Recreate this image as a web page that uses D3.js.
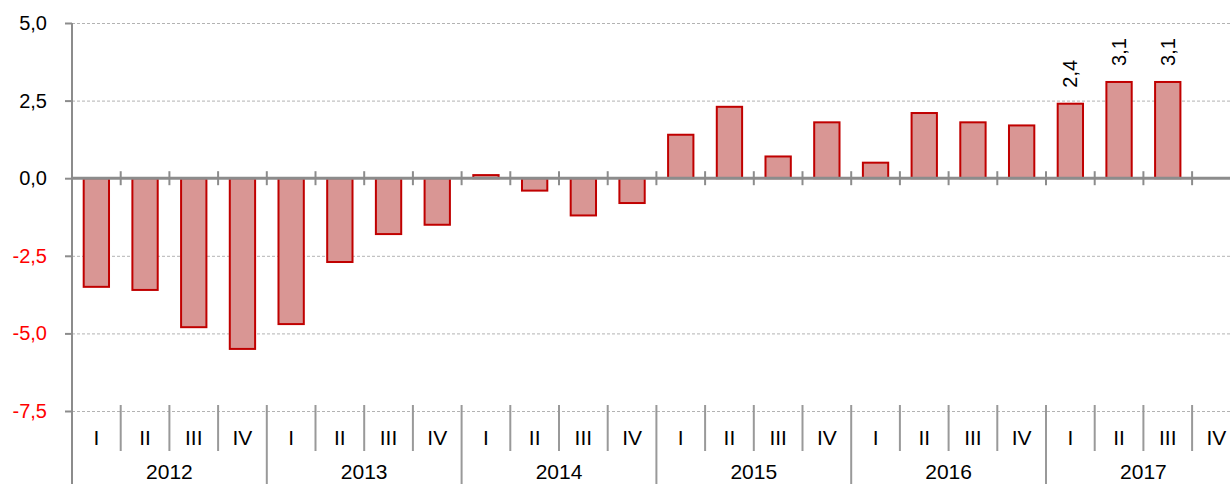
<!DOCTYPE html>
<html>
<head>
<meta charset="utf-8">
<script src="https://cdnjs.cloudflare.com/ajax/libs/d3/7.8.5/d3.min.js"></script>
<style>
  body { margin: 0; background: #fff; }
  svg { display: block; font-family: "Liberation Sans", Arial, sans-serif; }
</style>
</head>
<body>
<script>
(function(){

  //chart data
  var years = ["2012", "2013", "2014", "2015", "2016", "2017"];
  var quarters = ["I", "II", "III", "IV"];
  var values = [-3.5, -3.6, -4.8, -5.5,
                -4.7, -2.7, -1.8, -1.5,
                 0.1, -0.4, -1.2, -0.8,
                 1.4,  2.3,  0.7,  1.8,
                 0.5,  2.1,  1.8,  1.7,
                 2.4,  3.1,  3.1, null];
  var labelIndex = [20, 21, 22]; //bars with value labels
  var yTicks = [-7.5, -5, -2.5, 0, 2.5, 5];

  window.onload = drawChart();

  function drawChart(){
    var width = 1230,
        height = 484;

    var svg = d3.select("body")
      .append("svg")
      .attr("width", width)
      .attr("height", height);

    var left = 72,
        step = 48.7;

    var idx = d3.range(years.length * quarters.length);

    var x = d3.scaleBand() //one band per quarter
      .domain(idx)
      .range([left, left + step * idx.length])
      .paddingInner(0.48)
      .paddingOuter(0.24);

    var y = d3.scaleLinear()
      .domain([-7.5, 5])
      .range([411, 23]);

    var locale = d3.formatLocale({decimal: ",", thousands: ".", grouping: [3], currency: ["", "€"], minus: "-"});
    var fmt = locale.format(".1f");

    //dashed gridlines
    svg.append("g")
      .selectAll("line")
      .data(yTicks.filter(function(d){ return d != 0; }))
      .enter()
      .append("line")
      .attr("x1", left)
      .attr("x2", width)
      .attr("y1", function(d){ return y(d) + 0.5; })
      .attr("y2", function(d){ return y(d) + 0.5; })
      .style("stroke", "#b3b3b3")
      .style("stroke-width", 1)
      .style("stroke-dasharray", "3,2");

    //y axis
    var yAxis = d3.axisLeft(y)
      .tickValues(yTicks)
      .tickSize(7)
      .tickPadding(18)
      .tickFormat(fmt);

    var gy = svg.append("g")
      .attr("transform", "translate(" + left + ",0)")
      .call(yAxis);
    gy.select(".domain").remove();
    gy.selectAll(".tick line")
      .style("stroke", "#8c8c8c")
      .style("stroke-width", 2);
    gy.selectAll(".tick text")
      .style("font-size", "20px")
      .style("fill", function(d){ return d < 0 ? "#ff0000" : "#000"; });

    //vertical axis line
    svg.append("line")
      .attr("x1", left)
      .attr("x2", left)
      .attr("y1", y(5))
      .attr("y2", height)
      .style("stroke", "#8c8c8c")
      .style("stroke-width", 2);

    //bars
    svg.append("g")
      .selectAll("rect")
      .data(idx.filter(function(i){ return values[i] != null; }))
      .enter()
      .append("rect")
      .attr("x", function(i){ return x(i); })
      .attr("y", function(i){ return y(Math.max(0, values[i])); })
      .attr("width", x.bandwidth())
      .attr("height", function(i){ return Math.abs(y(values[i]) - y(0)); })
      .style("fill", "#d99694")
      .style("stroke", "#c00000")
      .style("stroke-width", 2);

    //zero line with quarter ticks
    svg.append("line")
      .attr("x1", left)
      .attr("x2", width)
      .attr("y1", y(0))
      .attr("y2", y(0))
      .style("stroke", "#8c8c8c")
      .style("stroke-width", 3);

    svg.append("g")
      .selectAll("line")
      .data(d3.range(idx.length + 1))
      .enter()
      .append("line")
      .attr("x1", function(i){ return left + i * step; })
      .attr("x2", function(i){ return left + i * step; })
      .attr("y1", y(0) - 7)
      .attr("y2", y(0) + 7)
      .style("stroke", "#8c8c8c")
      .style("stroke-width", 2);

    //value labels, rotated
    svg.append("g")
      .selectAll("text")
      .data(labelIndex)
      .enter()
      .append("text")
      .attr("transform", function(i){
        return "translate(" + (x(i) + x.bandwidth() / 2 + 7) + "," + (y(values[i]) - 16) + ") rotate(-90)";
      })
      .style("font-size", "20px")
      .style("fill", "#000")
      .text(function(i){ return fmt(values[i]); });

    //category separators at the bottom
    svg.append("g")
      .selectAll("line")
      .data(d3.range(1, idx.length + 1))
      .enter()
      .append("line")
      .attr("x1", function(i){ return left + i * step; })
      .attr("x2", function(i){ return left + i * step; })
      .attr("y1", 405)
      .attr("y2", function(i){ return i % 4 == 0 ? height : 451; })
      .style("stroke", "#999")
      .style("stroke-width", 2);

    //quarter labels
    svg.append("g")
      .selectAll("text")
      .data(idx)
      .enter()
      .append("text")
      .attr("x", function(i){ return x(i) + x.bandwidth() / 2; })
      .attr("y", 445)
      .attr("text-anchor", "middle")
      .style("font-size", "21px")
      .text(function(i){ return quarters[i % 4]; });

    //year labels
    svg.append("g")
      .selectAll("text")
      .data(years)
      .enter()
      .append("text")
      .attr("x", function(d, i){ return left + (i * 4 + 2) * step; })
      .attr("y", 479)
      .attr("text-anchor", "middle")
      .style("font-size", "21px")
      .text(function(d){ return d; });
  };
})();
</script>
</body>
</html>
